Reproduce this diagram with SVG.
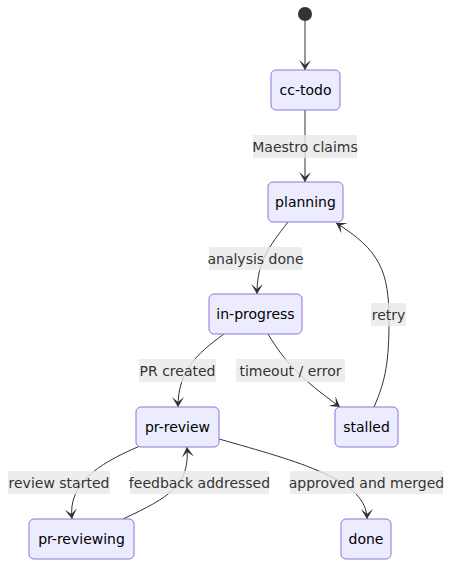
<svg xmlns="http://www.w3.org/2000/svg" width="459" height="576" viewBox="0 0 459 576">
<style>
.node rect{fill:#ECECFF;stroke:#9370DB;stroke-width:1}
text{font-family:"DejaVu Sans",Verdana,sans-serif;font-size:14px;fill:#333;text-anchor:middle;dominant-baseline:central}
.node text{fill:#000}
.edge{fill:none;stroke:#333;stroke-width:1;marker-end:url(#barb)}
.lbl rect{fill:#e8e8e8;opacity:0.8}
</style>
<defs>
<marker id="barb" viewBox="0 0 20 14" refX="19" refY="7" markerWidth="20" markerHeight="14" markerUnits="userSpaceOnUse" orient="auto">
<path d="M19,7 L9,13 L14,7 L9,1 Z" fill="#333"/>
</marker>
</defs>
<rect width="459" height="576" fill="#fff"/>
<g id="connectors">
<path class="edge" d="M305,21 L305,70"/>
<path class="edge" d="M305,110 L305,182"/>
<path class="edge" d="M288,222 C268,248 257,262 257,294"/>
<path class="edge" d="M224,334 C195,355 178,372 178,407"/>
<path class="edge" d="M268,334 C285,362 300,378 340,407"/>
<path class="edge" d="M374,407 C386,380 389,360 389,320 C389,272 380,250 336,223"/>
<path class="edge" d="M140,446 C95,465 68,485 72,519"/>
<path class="edge" d="M123,519 C170,497 190,485 187,447"/>
<path class="edge" d="M219,439 C300,462 367,480 367,519"/>
</g>
<g id="labels">
<g class="lbl"><rect x="253" y="135" width="104" height="23"/><text x="305" y="147">Maestro claims</text></g>
<g class="lbl"><rect x="209" y="247" width="93" height="23"/><text x="255.5" y="259">analysis done</text></g>
<g class="lbl"><rect x="139" y="359" width="77" height="23"/><text x="177.5" y="371">PR created</text></g>
<g class="lbl"><rect x="236" y="359" width="109" height="23"/><text x="290.5" y="371">timeout / error</text></g>
<g class="lbl"><rect x="371" y="303" width="35" height="23"/><text x="388.5" y="315">retry</text></g>
<g class="lbl"><rect x="8" y="471" width="102" height="23"/><text x="59" y="483">review started</text></g>
<g class="lbl"><rect x="130" y="471" width="139" height="23"/><text x="199.5" y="483">feedback addressed</text></g>
<g class="lbl"><rect x="290" y="471" width="153" height="23"/><text x="366.5" y="483">approved and merged</text></g>
</g>
<g id="start"><circle cx="305" cy="14" r="7" fill="#333"/></g>
<g id="cc-todo" class="node"><rect x="271" y="70" width="69" height="40" rx="5"/><text x="305.5" y="90">cc-todo</text></g>
<g id="planning" class="node"><rect x="268" y="182" width="75" height="40" rx="5"/><text x="305.5" y="202">planning</text></g>
<g id="in-progress" class="node"><rect x="209" y="294" width="93" height="40" rx="5"/><text x="255.5" y="314">in-progress</text></g>
<g id="pr-review" class="node"><rect x="136" y="407" width="83" height="40" rx="5"/><text x="177.5" y="427">pr-review</text></g>
<g id="stalled" class="node"><rect x="335" y="407" width="63" height="40" rx="5"/><text x="366.5" y="427">stalled</text></g>
<g id="pr-reviewing" class="node"><rect x="29" y="519" width="105" height="40" rx="5"/><text x="81.5" y="539">pr-reviewing</text></g>
<g id="done" class="node"><rect x="341" y="519" width="50" height="40" rx="5"/><text x="366" y="539">done</text></g>
</svg>
